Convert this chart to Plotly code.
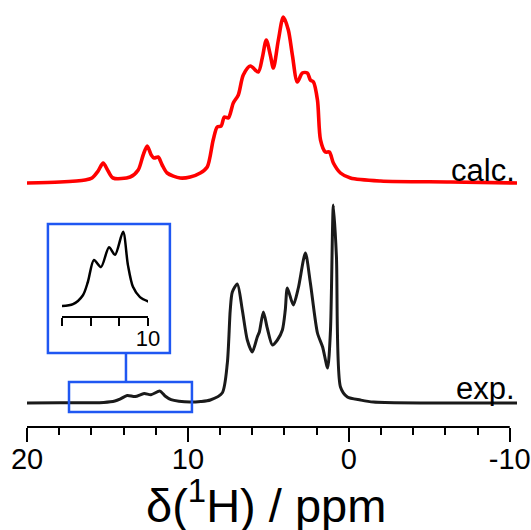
import plotly.graph_objects as go

# ---- data (ppm, intensity) ----
calc_ppm = [20.00, 17.95, 16.39, 15.96, 15.58, 15.27, 14.96, 14.65, 13.59, 13.09,
            12.78, 12.53, 12.28, 12.10, 11.85, 11.60, 11.29, 10.48, 9.86, 9.23,
            8.80, 8.43, 8.18, 7.93, 7.74, 7.49, 7.18, 6.87, 6.56, 6.12,
            5.63, 5.38, 5.13, 4.88, 4.69, 4.38, 4.07, 3.76, 3.51, 3.20,
            2.89, 2.58, 2.39, 2.20, 1.95, 1.76, 1.46, 1.21, 0.96, 0.52,
            -0.10, -1.97, -6.32, -10.45]
calc_int = [0, 1, 3, 5, 12, 20, 12, 5, 6, 13,
            28, 37, 28, 25, 26, 18, 10, 5, 6, 10,
            16, 43, 56, 57, 66, 65, 80, 88, 108, 117,
            111, 125, 143, 128, 115, 143, 166, 153, 128, 101,
            110, 110, 103, 101, 83, 43, 31, 31, 20, 10,
            5, 2, 1, 0]

exp_ppm = [20.00, 17.95, 16.07, 15.23, 14.54, 14.19, 13.77, 13.28, 12.72, 12.30,
           11.74, 11.40, 11.05, 10.56, 9.86, 9.20, 8.61, 7.87, 7.55, 7.37,
           7.24, 6.93, 6.62, 6.31, 6.00, 5.69, 5.56, 5.31, 5.07, 4.75,
           4.44, 4.13, 3.95, 3.82, 3.45, 3.14, 2.70, 2.39, 1.95, 1.63,
           1.32, 1.14, 0.96, 0.77, 0.52, 0.09, -0.72, -1.53, -10.45]
exp_int = [0, 0.3, 0.3, 0.6, 2.0, 4.1, 7.5, 6.4, 9.5, 8.3,
           11.9, 6.7, 3.3, 1.7, 0.9, 1.5, 3, 10, 40, 93,
           111, 119, 93, 63, 51, 66, 71, 91, 75, 58,
           63, 73, 93, 115, 98, 115, 150, 120, 70, 56,
           35, 73, 198, 146, 16, 6, 3, 1, 0]

major_ticks = [20, 10, 0, -10]
major_labels = ["20", "10", "0", "-10"]
minor_ticks = [18, 16, 14, 12, 8, 6, 4, 2, -2, -4, -6, -8]
inset_ticks = [16, 14, 12, 10]
inset_labels = ["", "", "", "10"]

assert len(calc_ppm) == len(calc_int)
assert len(exp_ppm) == len(exp_int)

CALC_OFFSET = 220
FONT = "Liberation Sans, Arial, sans-serif"
BLUE = "#1f57f2"

fig = go.Figure()
fig.add_trace(go.Scatter(x=calc_ppm, y=[v + CALC_OFFSET for v in calc_int], mode="lines",
                         line=dict(color="#ff0000", width=3.6, shape="spline", smoothing=0.8),
                         showlegend=False, hoverinfo="skip"))
fig.add_trace(go.Scatter(x=exp_ppm, y=exp_int, mode="lines",
                         line=dict(color="#1a1a1a", width=3, shape="spline", smoothing=0.7),
                         showlegend=False, hoverinfo="skip"))
ins_x = [p for p in exp_ppm if 9.5 <= p <= 16.5]
ins_y = [v for p, v in zip(exp_ppm, exp_int) if 9.5 <= p <= 16.5]
fig.add_trace(go.Scatter(x=ins_x, y=ins_y, mode="lines", xaxis="x2", yaxis="y2",
                         line=dict(color="black", width=2.5, shape="spline", smoothing=0.8),
                         showlegend=False, hoverinfo="skip"))

fig.update_layout(
    width=531, height=530,
    margin=dict(l=27, r=14, t=0, b=103, autoexpand=False),
    plot_bgcolor="white", paper_bgcolor="white",
    font=dict(family=FONT, color="black"),
    xaxis=dict(range=[20, -10.45], showline=False, showgrid=False, zeroline=False,
               automargin=False,
               tickmode="array", tickvals=major_ticks, ticktext=major_labels,
               ticks="outside", ticklen=14, tickwidth=2, tickcolor="black",
               ticklabelstandoff=-8,
               tickfont=dict(size=29, family=FONT),
               minor=dict(tickmode="array", tickvals=minor_ticks, ticks="outside",
                          ticklen=7, tickwidth=2, tickcolor="black")),
    yaxis=dict(range=[-24, 403], visible=False, automargin=False),
    xaxis2=dict(domain=[(62 - 27) / 490, (148 - 27) / 490], anchor="y2", range=[16, 10],
                automargin=False,
                showline=True, linewidth=2, linecolor="black", showgrid=False, zeroline=False,
                tickmode="array", tickvals=inset_ticks, ticktext=inset_labels,
                ticks="outside", ticklen=8, tickwidth=2, tickcolor="black",
                ticklabelstandoff=-6,
                tickfont=dict(size=22, family=FONT)),
    yaxis2=dict(domain=[(427 - 316) / 427, (427 - 226) / 427], anchor="x2",
                range=[-1.25, 12.81], visible=False, automargin=False),
)

# axis baseline
fig.add_shape(type="line", xref="x", yref="paper", x0=20, x1=-10, y0=0, y1=0,
              line=dict(color="black", width=2))
# zoom boxes
fig.add_shape(type="rect", xref="x", yref="y", x0=17.39, x1=9.75, y0=-9, y1=21,
              line=dict(color=BLUE, width=2.5))
fig.add_shape(type="rect", xref="x", yref="y", x0=18.70, x1=11.12, y0=50, y1=179,
              line=dict(color=BLUE, width=2.5))
fig.add_shape(type="line", xref="x", yref="y", x0=13.85, x1=13.85, y0=21, y1=50,
              line=dict(color=BLUE, width=2.5))

fig.add_annotation(text="calc.", xref="paper", yref="y", x=1.0, y=233, xanchor="right",
                   yanchor="middle", showarrow=False, font=dict(size=31, family=FONT))
fig.add_annotation(text="exp.", xref="paper", yref="y", x=1.0, y=15, xanchor="right",
                   yanchor="middle", showarrow=False, font=dict(size=31, family=FONT))
fig.add_annotation(text="δ(<sup>1</sup>H) / ppm", xref="paper", yref="paper",
                   x=(266 - 27) / 490, y=(427 - 502) / 427, xanchor="center", yanchor="middle",
                   showarrow=False, font=dict(size=47, family=FONT))

fig.write_html("out.html", config={"displayModeBar": False},
               post_script="document.body.style.margin='0';document.body.style.padding='0';")
